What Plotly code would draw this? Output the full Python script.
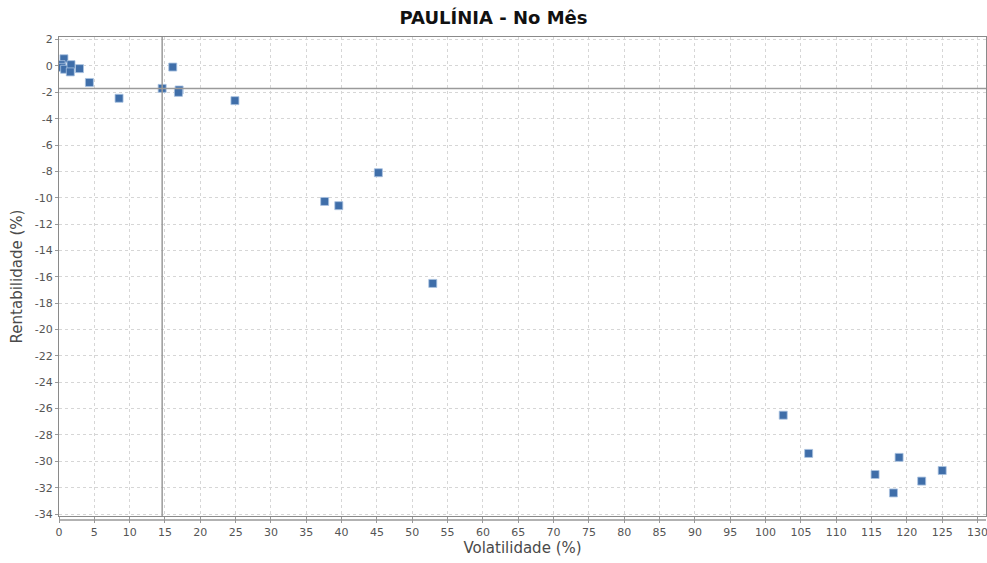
import plotly.graph_objects as go

volatilidade = [0.7, 0.3, 0.4, 0.8, 1.7, 1.6, 2.9, 4.3, 8.5, 14.6, 16.1, 17.0, 16.9, 24.9,
                37.6, 39.6, 45.2, 52.9, 102.5, 106.1, 115.5, 118.9, 118.1, 122.1, 125.0]
rentabilidade = [0.55, 0.1, -0.1, -0.25, 0.1, -0.45, -0.2, -1.25, -2.45, -1.7, -0.08, -1.82, -2.0, -2.63,
                 -10.28, -10.6, -8.1, -16.5, -26.5, -29.4, -31.0, -29.7, -32.4, -31.5, -30.7]
ref_vol = 14.6
ref_rent = -1.7
x_ticks = list(range(0, 131, 5))
y_ticks = list(range(-34, 3, 2))

fig = go.Figure()
fig.add_trace(go.Scatter(
    x=volatilidade, y=rentabilidade, mode="markers",
    marker=dict(symbol="square", size=8, color="#3F6EA9",
                line=dict(color="rgba(170,195,225,0.8)", width=1)),
    hoverinfo="x+y", showlegend=False, cliponaxis=True))

fig.add_vline(x=ref_vol, line=dict(color="#9a9a9a", width=1.5))
fig.add_hline(y=ref_rent, line=dict(color="#9a9a9a", width=1.5))

# axis line offset below the plot
fig.add_shape(type="line", xref="paper", yref="paper", x0=0, x1=1, y0=-0.0085, y1=-0.0085,
              line=dict(color="#999999", width=1.5))

fig.update_layout(
    width=987, height=563,
    margin=dict(l=59, r=1, t=37, b=47, autoexpand=False),
    paper_bgcolor="white", plot_bgcolor="white",
    title=dict(text="<b>PAULÍNIA - No Mês</b>", x=0.5, xanchor="center", y=0.98, yanchor="top",
               font=dict(family="DejaVu Sans", size=18, color="#111111")),
    font=dict(family="DejaVu Sans", size=11, color="#555555"),
)
fig.update_xaxes(
    range=[0, 131.2], tickvals=x_ticks, ticktext=[str(v) for v in x_ticks],
    automargin=False, ticklabeloverflow="allow",
    showgrid=True, gridcolor="#d6d6d6", griddash="dot", gridwidth=1,
    showline=True, linecolor="#8a8a8a", linewidth=1, mirror=True,
    ticks="outside", ticklen=6, tickcolor="#999999", zeroline=False,
    tickfont=dict(family="DejaVu Sans", size=11, color="#555555"),
    title=dict(text="Volatilidade (%)", standoff=4,
               font=dict(family="DejaVu Sans", size=15, color="#4a4a4a")))
fig.update_yaxes(
    range=[-34.15, 2.2], tickvals=y_ticks, ticktext=[str(v) for v in y_ticks],
    automargin=False, ticklabeloverflow="allow",
    showgrid=True, gridcolor="#d6d6d6", griddash="dot", gridwidth=1,
    showline=True, linecolor="#8a8a8a", linewidth=1, mirror=True,
    ticks="outside", ticklen=3, tickcolor="#999999", zeroline=False,
    tickfont=dict(family="DejaVu Sans", size=11, color="#555555"),
    title=dict(text="Rentabilidade (%)", standoff=8,
               font=dict(family="DejaVu Sans", size=15, color="#4a4a4a")))

post = ("document.body.style.margin='0';document.body.style.overflow='hidden';"
        "var gd=document.getElementById('{plot_id}');"
        "Plotly.relayout(gd,{width:987,height:563});")

fig.write_html("out.html", config={"responsive": False, "displayModeBar": False}, post_script=post)
